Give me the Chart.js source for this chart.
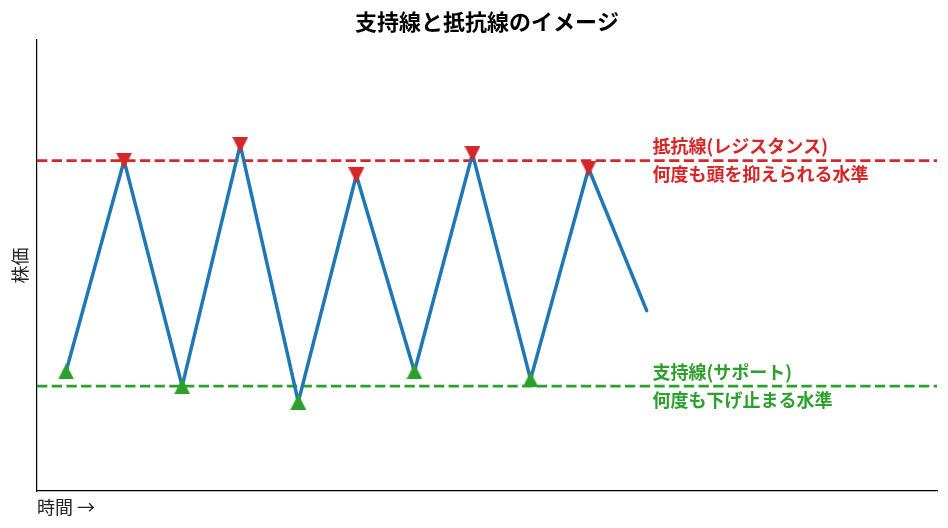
<!DOCTYPE html>
<html lang="ja">
<head>
<meta charset="utf-8">
<title>支持線と抵抗線のイメージ</title>
<script src="https://cdn.jsdelivr.net/npm/chart.js@4.4.1/dist/chart.umd.min.js"></script>
<style>
    html, body { margin: 0; padding: 0; background: #ffffff; }
    #wrap { width: 948px; height: 528px; }
</style>
</head>
<body>
<div id="wrap"><canvas id="srChart" width="948" height="528"></canvas></div>
<script>
// data
const timeSteps = [0, 1, 2, 3, 4, 5, 6, 7, 8, 9, 10];
const prices = [101.3, 120.0, 100.0, 121.4, 98.6, 118.7, 101.3, 120.6, 100.6, 119.3, 106.7];
const lowIdx = [0, 2, 4, 6, 8];
const highIdx = [1, 3, 5, 7, 9];
const resistanceLevel = 120;
const supportLevel = 100;
const xRange = [-0.5, 15];
const yRange = [90.7, 130.7];

const resistanceTexts = ["抵抗線(レジスタンス)", "何度も頭を抑えられる水準"];
const supportTexts = ["支持線(サポート)", "何度も下げ止まる水準"];
const noteX = 10.1;

const BLUE = "#1f77b4";
const RED = "#d62728";
const GREEN = "#2ca02c";
const FONT = "'Noto Sans CJK JP', 'Noto Sans', sans-serif";

function makeTriangle(color, up) {
    const size = 16;
    const c = document.createElement("canvas");
    c.width = size;
    c.height = size;
    const g = c.getContext("2d");
    g.fillStyle = color;
    g.beginPath();
    if (up) {
        g.moveTo(size / 2, 0);
        g.lineTo(size, size);
        g.lineTo(0, size);
    } else {
        g.moveTo(0, 0);
        g.lineTo(size, 0);
        g.lineTo(size / 2, size);
    }
    g.closePath();
    g.fill();
    return c;
}

const linePoints = timeSteps.map((t, i) => ({ x: t, y: prices[i] }));
const lowPoints = lowIdx.map(i => ({ x: timeSteps[i], y: prices[i] }));
const highPoints = highIdx.map(i => ({ x: timeSteps[i], y: prices[i] }));

const noteLabels = {
    id: "noteLabels",
    afterDatasetsDraw(chart) {
        const { ctx, scales } = chart;
        const x = scales.x.getPixelForValue(noteX);
        const drawPair = (texts, level, color) => {
            const y = scales.y.getPixelForValue(level);
            ctx.save();
            ctx.fillStyle = color;
            ctx.font = "bold 18px " + FONT;
            ctx.textAlign = "left";
            ctx.textBaseline = "middle";
            ctx.fillText(texts[0], x, y - 14);
            ctx.fillText(texts[1], x, y + 14);
            ctx.restore();
        };
        drawPair(resistanceTexts, resistanceLevel, RED);
        drawPair(supportTexts, supportLevel, GREEN);
    }
};

new Chart(document.getElementById("srChart"), {
    type: "scatter",
    data: {
        datasets: [
            {
                label: "安値",
                data: lowPoints,
                pointStyle: makeTriangle(GREEN, true),
                pointRadius: 8,
                showLine: false,
                order: 0
            },
            {
                label: "高値",
                data: highPoints,
                pointStyle: makeTriangle(RED, false),
                pointRadius: 8,
                showLine: false,
                order: 0
            },
            {
                label: "株価",
                data: linePoints,
                showLine: true,
                borderColor: BLUE,
                borderWidth: 3.5,
                borderCapStyle: "round",
                borderJoinStyle: "round",
                pointRadius: 0,
                order: 1
            },
            {
                label: "抵抗線",
                data: xRange.map(x => ({ x, y: resistanceLevel })),
                showLine: true,
                borderColor: RED,
                borderWidth: 2.8,
                borderDash: [10.3, 4.4],
                pointRadius: 0,
                order: 2
            },
            {
                label: "支持線",
                data: xRange.map(x => ({ x, y: supportLevel })),
                showLine: true,
                borderColor: GREEN,
                borderWidth: 2.8,
                borderDash: [10.3, 4.4],
                pointRadius: 0,
                order: 2
            }
        ]
    },
    options: {
        responsive: false,
        animation: false,
        devicePixelRatio: 1,
        layout: {
            padding: { top: 0, right: 11, bottom: 0, left: 0 }
        },
        scales: {
            x: {
                type: "linear",
                min: xRange[0],
                max: xRange[1],
                ticks: { display: false },
                grid: { display: false },
                border: { display: true, color: "#000000", width: 1.2 },
                title: {
                    display: true,
                    text: "時間 →",
                    align: "start",
                    color: "#222222",
                    font: { family: FONT, size: 18 },
                    padding: { top: 0, bottom: 10 }
                },
                afterFit(scale) {
                    scale.height = 37;
                }
            },
            y: {
                min: yRange[0],
                max: yRange[1],
                ticks: { display: false },
                grid: { display: false },
                border: { display: true, color: "#000000", width: 1.2 },
                title: {
                    display: true,
                    text: "株価",
                    color: "#222222",
                    font: { family: FONT, size: 18 },
                    padding: { top: 9, bottom: 0 }
                },
                afterFit(scale) {
                    scale.width = 37;
                }
            }
        },
        plugins: {
            legend: { display: false },
            tooltip: { enabled: false },
            title: {
                display: true,
                text: "支持線と抵抗線のイメージ",
                fullSize: false,
                color: "#000000",
                font: { family: FONT, size: 22, weight: "bold" },
                padding: { top: 8.5, bottom: 5.1 }
            }
        }
    },
    plugins: [noteLabels]
});
</script>
</body>
</html>
